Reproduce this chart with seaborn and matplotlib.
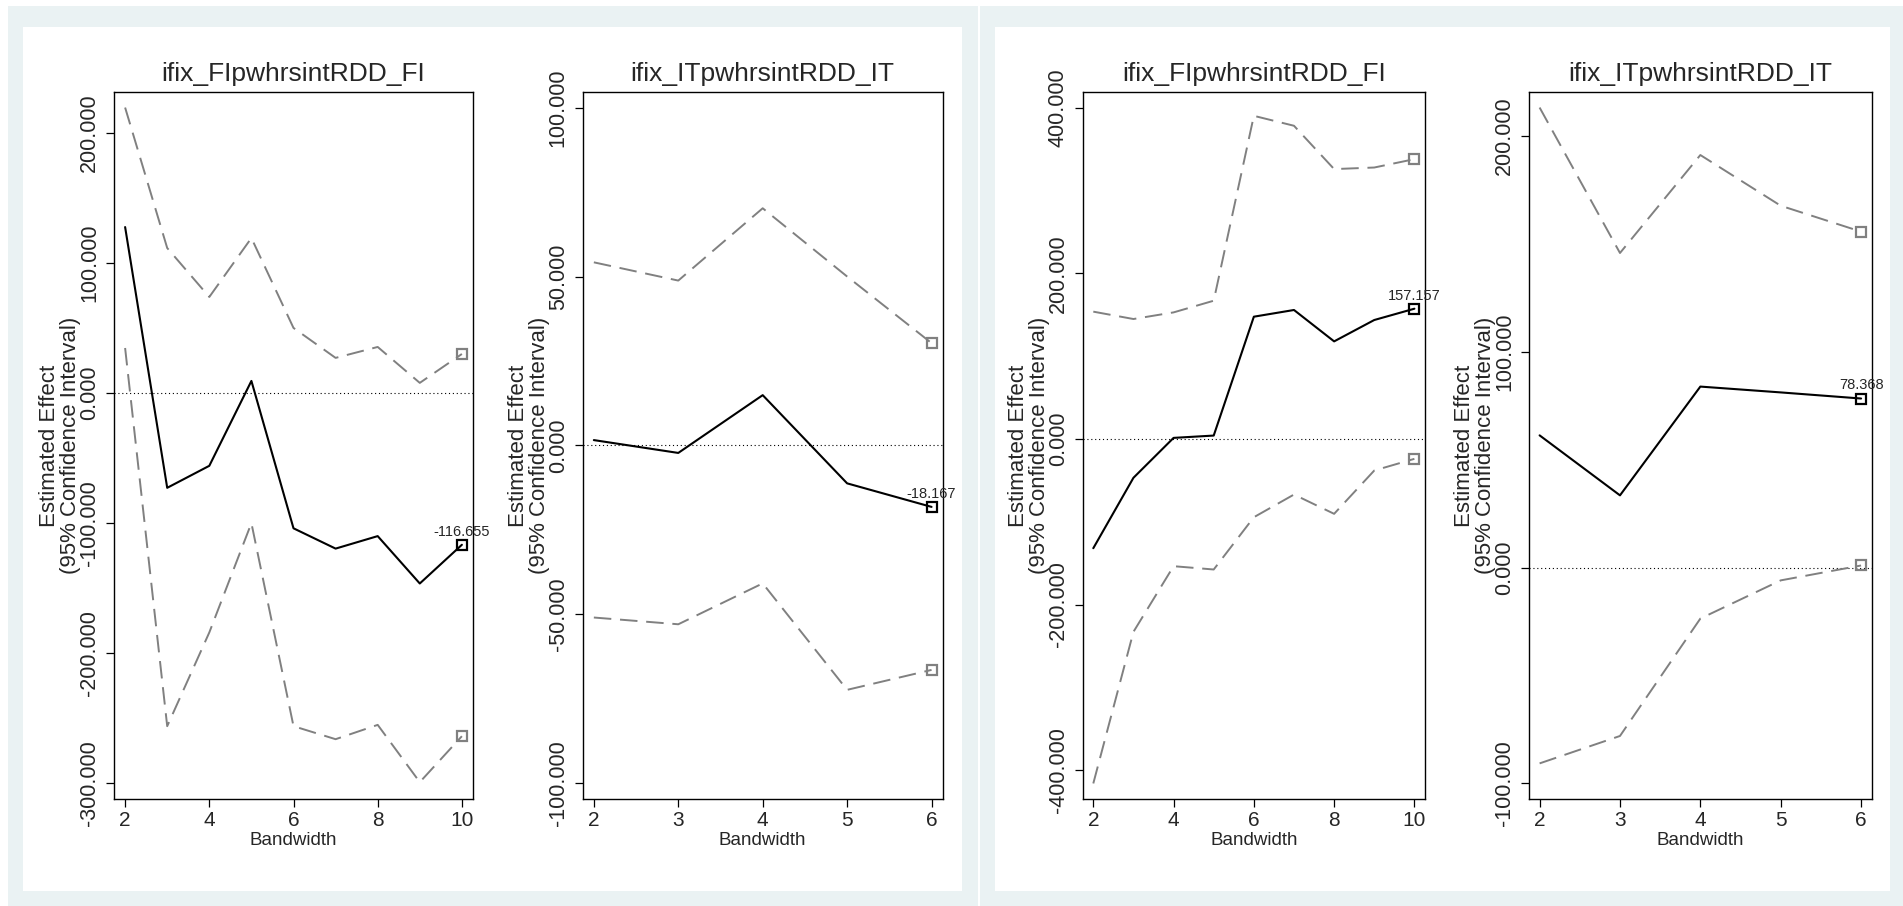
import matplotlib
matplotlib.use("Agg")
import matplotlib.pyplot as plt
from matplotlib.patches import Rectangle
from matplotlib.ticker import FormatStrFormatter
import seaborn as sns
import numpy as np

# Bandwidths
bw_long = [2, 3, 4, 5, 6, 7, 8, 9, 10]
bw_short = [2, 3, 4, 5, 6]

# Left graph, FI
fi_left_est = [127.4, -72.9, -56.0, 9.2, -104.0, -119.6, -110.0, -146.4, -116.655]
fi_left_hi = [219.2, 111.3, 73.7, 119.0, 49.9, 26.9, 35.3, 7.7, 29.9]
fi_left_lo = [34.5, -256.0, -184.0, -100.0, -256.0, -266.0, -255.0, -299.0, -263.7]

# Left graph, IT
it_left_est = [1.6, -2.2, 14.9, -11.2, -18.167]
it_left_hi = [54.2, 48.8, 70.2, 50.0, 30.3]
it_left_lo = [-50.9, -52.9, -40.8, -72.3, -66.4]

# Right graph, FI
fi_right_est = [-132.0, -47.0, 1.2, 4.0, 147.5, 155.6, 117.7, 143.5, 157.157]
fi_right_hi = [153.6, 144.7, 152.7, 166.8, 390.0, 378.0, 325.7, 327.6, 337.7]
fi_right_lo = [-416.0, -233.0, -153.7, -157.7, -94.6, -67.2, -90.5, -38.2, -24.1]

# Right graph, IT
it_right_est = [61.3, 33.5, 83.9, 81.2, 78.368]
it_right_hi = [213.2, 145.8, 191.2, 167.7, 155.7]
it_right_lo = [-90.7, -78.0, -23.6, -5.9, 1.0]

titles = ["ifix_FIpwhrsintRDD_FI", "ifix_ITpwhrsintRDD_IT",
          "ifix_FIpwhrsintRDD_FI", "ifix_ITpwhrsintRDD_IT"]

sns.set_theme(style="white")
fam = ["Liberation Sans", "DejaVu Sans"]
plt.rcParams["font.family"] = fam

W, H = 1903, 906
fig = plt.figure(figsize=(W / 100, H / 100), dpi=100, facecolor="white")


def px_rect(x0, y0, x1, y1, color):
    fig.add_artist(Rectangle((x0 / W, 1 - y1 / H), (x1 - x0) / W, (y1 - y0) / H,
                             transform=fig.transFigure, facecolor=color,
                             edgecolor="none", zorder=-10))


# Stata-like graph regions
bluish = "#eaf2f3"
px_rect(8, 6, 978, 906, bluish)
px_rect(980, 6, 1903, 906, bluish)
px_rect(23, 27, 962, 891, "white")
px_rect(995, 27, 1890, 891, "white")

panels = [
    (114, 473, bw_long, fi_left_est, fi_left_hi, fi_left_lo, [-300, -200, -100, 0, 100, 200], [2, 4, 6, 8, 10]),
    (582.7, 942.7, bw_short, it_left_est, it_left_hi, it_left_lo, [-100, -50, 0, 50, 100], bw_short),
    (1082.7, 1425, bw_long, fi_right_est, fi_right_hi, fi_right_lo, [-400, -200, 0, 200, 400], [2, 4, 6, 8, 10]),
    (1529, 1871.7, bw_short, it_right_est, it_right_hi, it_right_lo, [-100, 0, 100, 200], bw_short),
]

top_px, bot_px = 92, 799
grey = "#808080"

for i, (l, r, bw, est, hi, lo, yticks, xticks) in enumerate(panels):
    ax = fig.add_axes([l / W, 1 - bot_px / H, (r - l) / W, (bot_px - top_px) / H])
    ax.set_facecolor("white")

    ax.axhline(0, color="black", linestyle=(0, (1, 2.5)), linewidth=0.8, zorder=1)

    sns.lineplot(x=bw, y=hi, ax=ax, color=grey, linewidth=1.4,
                 linestyle=(0, (9, 4.5)), zorder=2)
    sns.lineplot(x=bw, y=lo, ax=ax, color=grey, linewidth=1.4,
                 linestyle=(0, (9, 4.5)), zorder=2)
    sns.lineplot(x=bw, y=est, ax=ax, color="black", linewidth=1.5, zorder=3)

    # end-point markers
    ax.plot([bw[-1]], [hi[-1]], marker="s", ms=6.5, mfc="none", mec=grey, mew=1.6, zorder=4)
    ax.plot([bw[-1]], [lo[-1]], marker="s", ms=6.5, mfc="none", mec=grey, mew=1.6, zorder=4)
    ax.plot([bw[-1]], [est[-1]], marker="s", ms=6.5, mfc="none", mec="black", mew=1.6, zorder=4)
    ax.annotate(f"{est[-1]:.3f}", xy=(bw[-1], est[-1]), xytext=(0, 6.5),
                textcoords="offset points", ha="center", va="baseline",
                fontsize=10.5)

    # limits like Stata: range covers data and ticks
    ylo = min(min(lo), yticks[0])
    yhi = max(max(hi), yticks[-1])
    ypad = 0.023 * (yhi - ylo)
    ax.set_ylim(ylo - ypad, yhi + ypad)
    xpad = 0.033 * (bw[-1] - bw[0])
    ax.set_xlim(bw[0] - xpad, bw[-1] + xpad)

    ax.set_yticks(yticks)
    ax.set_xticks(xticks)
    ax.yaxis.set_major_formatter(FormatStrFormatter("%.3f"))
    ax.tick_params(axis="both", direction="out", length=6, width=0.9,
                   color="black", bottom=True, left=True)
    ax.tick_params(axis="y", labelrotation=90, pad=4, labelsize=15.5)
    ax.tick_params(axis="x", pad=3, labelsize=15)
    for lab in ax.get_yticklabels():
        lab.set_va("center")

    for s in ax.spines.values():
        s.set_color("black")
        s.set_linewidth(1.0)

    ax.set_title(titles[i], fontsize=19, pad=8)
    ax.set_xlabel("Bandwidth", fontsize=13.5, labelpad=1)
    ax.set_ylabel("Estimated Effect\n(95% Confidence Interval)", fontsize=16,
                  linespacing=1.0)
    ax.yaxis.set_label_coords(-33 / (r - l), 0.5)

fig.savefig("out.png", dpi=100, facecolor="white")
